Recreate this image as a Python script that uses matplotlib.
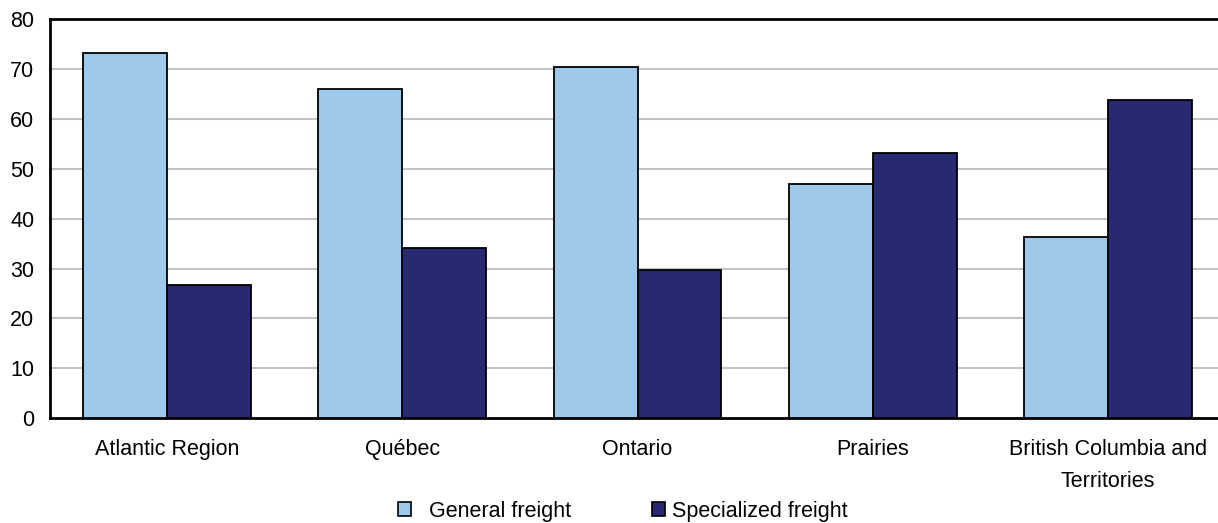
import matplotlib
matplotlib.use("Agg")
import matplotlib.pyplot as plt
import numpy as np
from matplotlib.patches import Patch

plt.rcParams['font.family'] = ['Liberation Sans', 'DejaVu Sans']

categories = ["Atlantic Region", "Québec", "Ontario", "Prairies", "British Columbia and\nTerritories"]
general = [73.2, 65.9, 70.3, 46.9, 36.3]
specialized = [26.8, 34.1, 29.7, 53.1, 63.7]
yticks = [0, 10, 20, 30, 40, 50, 60, 70, 80]
series_names = ["General freight", "Specialized freight"]

c_gen = "#9FC9EA"
c_spec = "#272A72"

fig = plt.figure(figsize=(12.18, 5.23), dpi=100)
W, H = 1218, 523
left, right, top, bottom = 49.5, 1225.5, 19, 418.3
ax = fig.add_axes([left / W, 1 - bottom / H, (right - left) / W, (bottom - top) / H])

x = np.arange(len(categories))
bw = 0.357
ax.bar(x - bw / 2, general, width=bw, color=c_gen, edgecolor="black", linewidth=1.3, zorder=3)
ax.bar(x + bw / 2, specialized, width=bw, color=c_spec, edgecolor="black", linewidth=1.3, zorder=3)

ax.set_xlim(-0.5, len(categories) - 0.5)
ax.set_ylim(0, 80)
ax.set_yticks(yticks)
ax.set_yticklabels([str(v) for v in yticks], fontsize=15.5)
ax.set_xticks(x)
ax.set_xticklabels(categories, fontsize=15.5, linespacing=1.65)
ax.tick_params(axis='both', length=0)
ax.tick_params(axis='y', pad=11)
ax.tick_params(axis='x', pad=15)
for v in yticks[1:-1]:
    ax.axhline(v, color="#c4c4c4", linewidth=1.5, zorder=1)

ax.spines['right'].set_visible(False)
for s in ['top', 'left', 'bottom']:
    ax.spines[s].set_linewidth(2)
    ax.spines[s].set_color("black")

legend_specs = [(series_names[0], c_gen, 398, 0.85), (series_names[1], c_spec, 652, 0.35)]
for name, col, xpos, tpad in legend_specs:
    h = Patch(facecolor=col, edgecolor="black", linewidth=1.2, label=name)
    leg = fig.legend(handles=[h], loc="center left", bbox_to_anchor=(xpos / W, 1 - 511 / H),
                     frameon=False, fontsize=15.5, handlelength=0.6, handleheight=0.6,
                     handletextpad=tpad, borderpad=0, borderaxespad=0)

fig.savefig("out.png", dpi=100)
